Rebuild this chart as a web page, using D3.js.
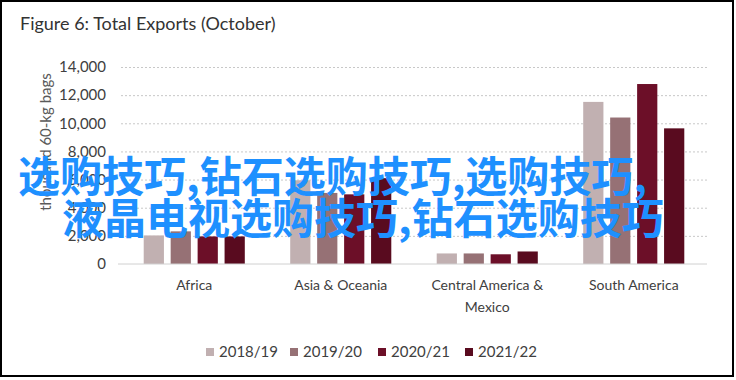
<!DOCTYPE html>
<html>
<head>
<meta charset="utf-8">
<script src="https://cdn.jsdelivr.net/npm/d3@7"></script>
<style>
  html, body { margin: 0; padding: 0; background: #fff; }
  svg { display: block; }
</style>
</head>
<body>
<svg id="chart" width="736" height="380"></svg>
<script>
// ---- data ----
const categories = ["Africa", "Asia & Oceania", "Central America & Mexico", "South America"];
const seriesNames = ["2018/19", "2019/20", "2020/21", "2021/22"];
const values2018_19 = [2030, 5950, 750, 11520];
const values2019_20 = [2320, 5050, 750, 10410];
const values2020_21 = [1960, 4950, 690, 12790];
const values2021_22 = [1960, 6100, 890, 9640];
const yTickValues = [0, 2000, 4000, 6000, 8000, 10000, 12000, 14000];
const titleText = "Figure 6: Total Exports (October)";
const yAxisTitle = "thousand 60-kg bags";
const overlayLines = ["选购技巧,钻石选购技巧,选购技巧,", "液晶电视选购技巧,钻石选购技巧"];

const seriesValues = [values2018_19, values2019_20, values2020_21, values2021_22];
const colors = ["#c1b0b1", "#967175", "#6c0f28", "#590b1f"];

const svg = d3.select("#chart");
const font = "Lato, 'Open Sans', sans-serif";

const x0 = d3.scaleBand().domain(categories).range([121, 707]).paddingInner(0.31).paddingOuter(0.155);
const x1 = d3.scaleBand().domain(seriesNames).range([0, x0.bandwidth()]).paddingInner(0.25).paddingOuter(0);
const y = d3.scaleLinear().domain([0, 14000]).range([264, 67]);

// frame
svg.append("rect").attr("x", 1).attr("y", 1).attr("width", 732).attr("height", 375)
  .attr("fill", "#fff").attr("stroke", "#000").attr("stroke-width", 2);

// title
svg.append("text").attr("x", 20).attr("y", 30).text(titleText)
  .attr("font-family", font).attr("font-size", 18).attr("fill", "#333");

// gridlines
const grid = d3.axisLeft(y).tickValues(yTickValues.filter(d => d > 0)).tickSize(-(707 - 121)).tickFormat("");
svg.append("g").attr("transform", "translate(121,0)").call(grid)
  .call(g => g.select(".domain").remove())
  .call(g => g.selectAll("line").attr("stroke", "#c8c8c8").attr("stroke-dasharray", "2,2"));

// y axis labels
const yAxis = d3.axisLeft(y).tickValues(yTickValues).tickSize(0).tickPadding(0).tickFormat(d3.format(","));
svg.append("g").attr("transform", "translate(106,0)").call(yAxis)
  .call(g => g.select(".domain").remove())
  .call(g => g.selectAll("text").attr("font-family", font).attr("font-size", 15).attr("fill", "#404040"));

// y axis title
svg.append("text").attr("transform", "translate(51,142) rotate(-90)").attr("text-anchor", "middle")
  .text(yAxisTitle).attr("font-family", font).attr("font-size", 15).attr("fill", "#595959");

// bars
const rows = categories.map((c, i) => ({ cat: c, vals: seriesNames.map((s, j) => ({ s, j, v: seriesValues[j][i] })) }));
const groups = svg.append("g").selectAll("g").data(rows).join("g")
  .attr("transform", d => `translate(${x0(d.cat)},0)`);
groups.selectAll("rect").data(d => d.vals).join("rect")
  .attr("x", d => x1(d.s)).attr("width", x1.bandwidth())
  .attr("y", d => y(d.v)).attr("height", d => y(0) - y(d.v))
  .attr("fill", d => colors[d.j]);

// baseline
svg.append("line").attr("x1", 118).attr("x2", 707).attr("y1", y(0)).attr("y2", y(0))
  .attr("stroke", "#d0d0d0").attr("stroke-width", 1);

// x axis labels (wrapped)
const xAxis = d3.axisBottom(x0).tickSize(0).tickPadding(0);
const xg = svg.append("g").attr("transform", `translate(0,${y(0)})`).call(xAxis);
xg.select(".domain").remove();
xg.selectAll("text").attr("font-family", font).attr("font-size", 14).attr("fill", "#404040")
  .attr("dy", null).attr("y", 26)
  .each(function (d) {
    const t = d3.select(this);
    const words = d.split(" ");
    t.text(null);
    let line = [];
    let tspan = t.append("tspan").attr("x", 0).attr("y", 26);
    let lineNo = 0;
    words.forEach(w => {
      line.push(w);
      tspan.text(line.join(" "));
      if (tspan.node().getComputedTextLength() > 125 && line.length > 1) {
        line.pop();
        tspan.text(line.join(" "));
        line = [w];
        lineNo++;
        tspan = t.append("tspan").attr("x", 0).attr("y", 26 + lineNo * 22).text(w);
      }
    });
  });

// legend
const legendX = [206, 290, 378, 465];
const lg = svg.append("g").selectAll("g").data(seriesNames).join("g")
  .attr("transform", (d, i) => `translate(${legendX[i]},348)`);
lg.append("rect").attr("width", 8).attr("height", 8).attr("fill", (d, i) => colors[i]);
lg.append("text").attr("x", 13).attr("y", 9).text(d => d)
  .attr("font-family", font).attr("font-size", 15).attr("fill", "#404040");

// overlay text
const overlayX = [18, 62];
const overlayY = [192, 234];
svg.append("g").selectAll("text").data(overlayLines).join("text")
  .attr("x", (d, i) => overlayX[i]).attr("y", (d, i) => overlayY[i])
  .text(d => d)
  .attr("font-family", "'Noto Sans CJK SC', sans-serif").attr("font-weight", "bold")
  .attr("font-size", 42).attr("fill", "#1e90ff");
</script>
</body>
</html>
